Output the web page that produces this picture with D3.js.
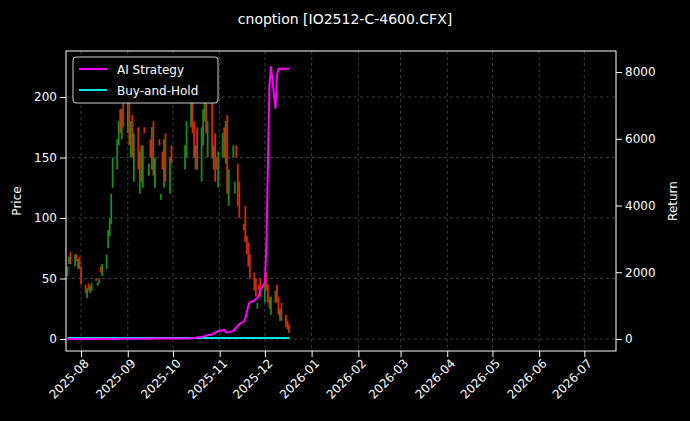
<!DOCTYPE html><html><head><meta charset="utf-8"><script src="https://cdn.jsdelivr.net/npm/d3@7"></script>
<style>body{margin:0;background:#000}svg{display:block}text{font-family:"DejaVu Sans",sans-serif}</style></head><body>
<script>
const closes=[60,68,62,70,64,66,58,
45,38,42,40,44,46,48,47,50,55,62,70,90,100,120,150,165,180,170,190,175,
200,160,180,150,170,140,155,130,160,170,145,150,175,135,150,160,120,140,165,130,150,145,
160,180,200,170,150,160,140,175,190,210,170,180,150,160,130,140,155,
170,150,180,120,140,160,130,150,110,100,90,80,70,60,50,40,35,30,40,35,
50,40,30,25,35,40,30,20,25,15,10,8,5];
const opens=[52,62,72,60,70,58,68,
60,45,34,46,38,40,50,44,46,60,52,58,75,85,95,125,140,160,190,165,200,
170,205,150,185,130,175,120,160,125,175,135,165,140,180,125,165,115,155,125,170,120,160,
140,150,175,205,180,140,175,130,160,180,215,150,195,140,170,150,125,
150,175,145,185,110,150,120,160,145,130,95,110,85,80,70,55,50,25,45,50,
30,55,45,35,20,30,45,35,15,30,20,15,12];
const aiRet=[0,0,0,0,0,0,0,
0,0,0,0,0,0,0,0,0,0,0,0,0,2,2,3,3,4,4,5,5,
5,6,6,6,7,7,8,8,8,9,9,10,10,10,11,11,12,12,13,13,14,14,
15,18,22,26,32,40,50,60,72,85,100,115,135,160,190,215,240,
260,270,210,195,205,235,300,350,400,450,520,620,800,1000,1100,1150,1200,1230,1300,1450,
1700,2800,5200,7600,8170,6900,7900,8100,8100,8100,8100,8100,8100];
const bhRet=Array(100).fill(30);
const xTicks=["2025-08","2025-09","2025-10","2025-11","2025-12","2026-01","2026-02","2026-03","2026-04","2026-05","2026-06","2026-07"];
const priceTicks=[0,50,100,150,200], retTicks=[0,2000,4000,6000,8000];

const hol=new Set(["2025-10-01","2025-10-02","2025-10-03","2025-10-06","2025-10-07","2025-10-08"]);
const fmt=d3.timeFormat("%Y-%m-%d");
const dates=d3.timeDay.range(new Date(2025,6,23),new Date(2025,11,18)).filter(d=>d.getDay()%6!==0&&!hol.has(fmt(d)));

const W=690,H=421,L=66,R=616,T=51,B=351;
const svg=d3.select("body").append("svg").attr("width",W).attr("height",H);
svg.append("rect").attr("width",W).attr("height",H).attr("fill","#000");
const x=d3.scaleTime().domain([new Date(2025,6,22),new Date(2026,6,22)]).range([L,R]);
const y=d3.scaleLinear().domain([-9.9,238]).range([B,T]);
const y2=d3.scaleLinear().domain([-360,8630]).range([B,T]);
const pt=d3.timeParse("%Y-%m");
const g=svg.append("g");
xTicks.forEach(t=>g.append("line").attr("x1",x(pt(t))).attr("x2",x(pt(t))).attr("y1",T).attr("y2",B).attr("stroke","#666").attr("stroke-width",0.6).attr("stroke-dasharray","3,3"));
priceTicks.forEach(t=>g.append("line").attr("x1",L).attr("x2",R).attr("y1",y(t)).attr("y2",y(t)).attr("stroke","#666").attr("stroke-width",0.6).attr("stroke-dasharray","3,3"));
dates.forEach((d,i)=>{const o=opens[i],c=closes[i];const up=c>=o;
g.append("rect").attr("x",x(d)-0.9).attr("width",1.8).attr("y",y(Math.max(o,c))).attr("height",Math.max(1,Math.abs(y(o)-y(c)))).attr("fill",up?"#1a8c1a":"#d42a0a");});
const ln=a=>d3.line().x((d,i)=>x(dates[i])).y(d=>y2(d))(a);
g.append("path").attr("d",ln(bhRet)).attr("fill","none").attr("stroke","#00e5e5").attr("stroke-width",2);
g.append("path").attr("d",ln(aiRet)).attr("fill","none").attr("stroke","#ff00ff").attr("stroke-width",2);
const ax=svg.append("g").attr("transform",`translate(0,${B})`).call(d3.axisBottom(x).tickValues(xTicks.map(pt)).tickFormat(d3.timeFormat("%Y-%m")).tickSizeOuter(0));
ax.selectAll("text").attr("transform","rotate(-45)").attr("text-anchor","end").attr("dx","-0.3em").attr("dy","0.5em");
const ay=svg.append("g").attr("transform",`translate(${L},0)`).call(d3.axisLeft(y).tickValues(priceTicks).tickSizeOuter(0));
const ay2=svg.append("g").attr("transform",`translate(${R},0)`).call(d3.axisRight(y2).tickValues(retTicks).tickFormat(d3.format("d")).tickSizeOuter(0));
[ax,ay,ay2].forEach(a=>{a.select(".domain").remove();a.selectAll("line").attr("stroke","#fff");a.selectAll("text").attr("fill","#fff").style("font-size","12px");});
svg.append("rect").attr("x",L).attr("y",T).attr("width",R-L).attr("height",B-T).attr("fill","none").attr("stroke","#fff").attr("stroke-width",1);
svg.append("text").attr("x",345).attr("y",24).attr("text-anchor","middle").attr("fill","#fff").style("font-size","14px").text("cnoption [IO2512-C-4600.CFX]");
svg.append("text").attr("transform","translate(21,201) rotate(-90)").attr("text-anchor","middle").attr("fill","#fff").style("font-size","12px").text("Price");
svg.append("text").attr("transform","translate(677,201) rotate(-90)").attr("text-anchor","middle").attr("fill","#fff").style("font-size","12px").text("Return");
const lg=svg.append("g");
lg.append("rect").attr("x",73).attr("y",57).attr("width",145).attr("height",46).attr("rx",3).attr("fill","#000").attr("stroke","#ccc");
[["AI Strategy","#ff00ff"],["Buy-and-Hold","#00e5e5"]].forEach((s,i)=>{const yy=69+i*21;
lg.append("line").attr("x1",79).attr("x2",107).attr("y1",yy).attr("y2",yy).attr("stroke",s[1]).attr("stroke-width",2);
lg.append("text").attr("x",117).attr("y",yy+4.5).attr("fill","#fff").style("font-size","12px").text(s[0]);});
</script></body></html>
